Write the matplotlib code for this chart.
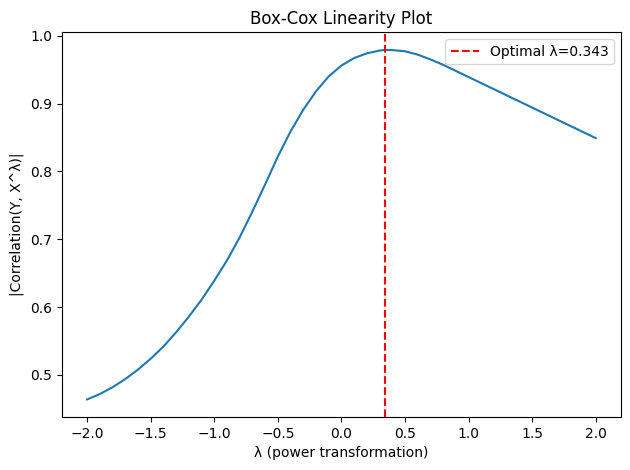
import numpy as np
import matplotlib
matplotlib.use('Agg')
import matplotlib.pyplot as plt

# lambda grid and |correlation|
lambdas = [-2.0, -1.9, -1.8, -1.7, -1.6, -1.5, -1.4, -1.3, -1.2, -1.1,
           -1.0, -0.9, -0.8, -0.7, -0.6, -0.5, -0.4, -0.3, -0.2, -0.1,
           0.0, 0.1, 0.2, 0.3, 0.343, 0.4, 0.5, 0.6, 0.7, 0.8, 0.9,
           1.0, 1.1, 1.2, 1.3, 1.4, 1.5, 1.6, 1.7, 1.8, 1.9, 2.0]
corrs = [0.464, 0.472, 0.482, 0.494, 0.508, 0.524, 0.542, 0.563, 0.586, 0.611,
         0.639, 0.669, 0.703, 0.741, 0.781, 0.822, 0.859, 0.891, 0.918, 0.940,
         0.956, 0.967, 0.974, 0.978, 0.979, 0.9787, 0.977, 0.972, 0.965, 0.957, 0.948,
         0.939, 0.930, 0.921, 0.912, 0.903, 0.894, 0.885, 0.876, 0.867, 0.858, 0.849]
best_lambda = 0.343

fig, ax = plt.subplots(figsize=(6.3, 4.7), dpi=100)
ax.plot(lambdas, corrs)
ax.axvline(best_lambda, color='red', linestyle='--', label='Optimal λ=' + str(best_lambda))
ax.set_xlabel('λ (power transformation)')
ax.set_ylabel('|Correlation(Y, X^λ)|')
ax.set_title('Box-Cox Linearity Plot')
ax.legend(loc='upper right')
plt.subplots_adjust(left=0.098, right=0.986, top=0.931, bottom=0.113)
plt.savefig('out.png')
